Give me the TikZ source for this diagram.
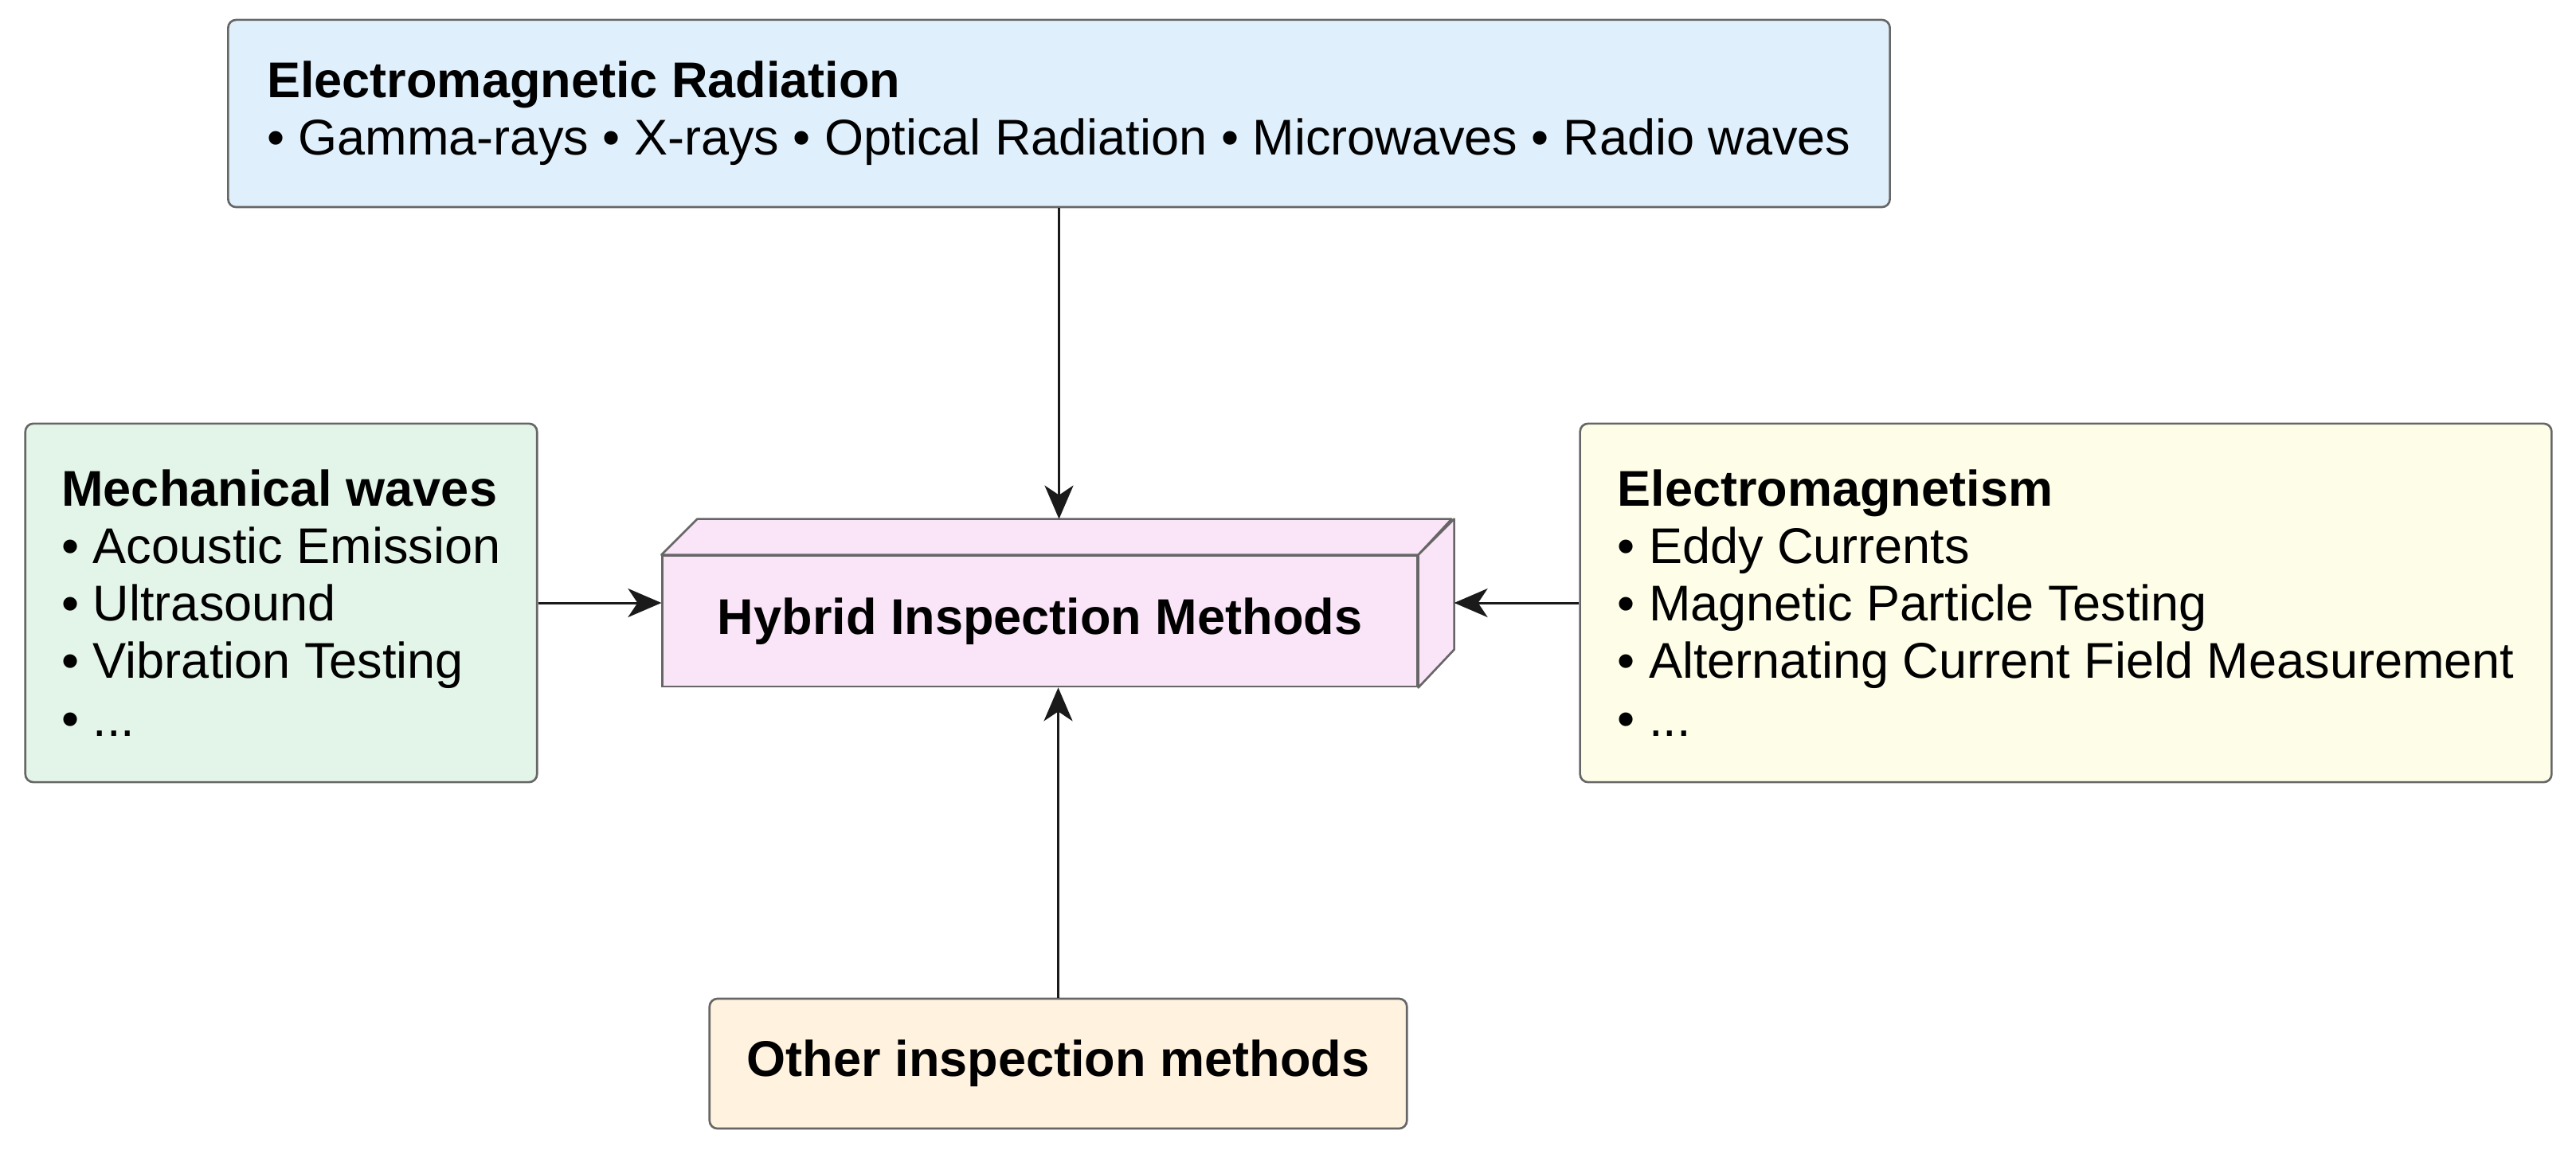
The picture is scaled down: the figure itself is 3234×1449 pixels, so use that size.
\documentclass[tikz,border=0pt]{standalone}
\usepackage{fontspec}
\setmainfont{Liberation Sans}
\usetikzlibrary{arrows.meta,calc}
\definecolor{bluefill}{HTML}{DFF0FC}
\definecolor{greenfill}{HTML}{E3F4E8}
\definecolor{yellowfill}{HTML}{FEFDE8}
\definecolor{pinkfill}{HTML}{F9E5F7}
\definecolor{orangefill}{HTML}{FFF2DF}
\definecolor{bordergray}{HTML}{666666}
\definecolor{arrowblack}{HTML}{1A1A1A}
\begin{document}
\begin{tikzpicture}[x=0.01cm,y=-0.01cm,
  txt/.style={font=\fontsize{17.93pt}{20.5pt}\selectfont},
  box/.style={txt, draw=bordergray, line width=0.75pt, rounded corners=0.1cm, inner sep=0pt, align=left},
  cubeface/.style={draw=bordergray, line width=0.75pt, fill=pinkfill, line join=round},
  conn/.style={draw=arrowblack, line width=0.85pt, -{Stealth[length=0.42cm,width=0.36cm,inset=0.12cm]}}]
\useasboundingbox[fill=white] (0,0) rectangle (3234,1449);

\node[box, fill=bluefill, minimum width=20.85cm, minimum height=2.35cm] (em) at (1329.5,142.5)
  {\textbf{Electromagnetic Radiation}\\• Gamma-rays • X-rays • Optical Radiation • Microwaves • Radio waves};

\node[box, fill=greenfill, minimum width=6.42cm, minimum height=4.5cm] (mech) at (353,757)
  {\textbf{Mechanical waves}\\• Acoustic Emission\\• Ultrasound\\• Vibration Testing\\• ...};

\node[box, fill=yellowfill, minimum width=12.19cm, minimum height=4.5cm] (elm) at (2593.5,757)
  {\textbf{Electromagnetism}\\• Eddy Currents\\• Magnetic Particle Testing\\• Alternating Current Field Measurement\\• ...};

\node[box, fill=orangefill, minimum width=8.75cm, minimum height=1.63cm, align=center] (oth) at (1328.5,1335.5)
  {\textbf{Other inspection methods}};

% cuboid
\node[txt, draw=bordergray, line width=0.75pt, fill=pinkfill, inner sep=0pt,
      minimum width=9.47cm, minimum height=1.64cm] (hyb) at (1305.5,780)
  {\textbf{Hybrid Inspection Methods}};
\draw[cubeface] (hyb.north west) -- ++(45,-45) -- ++(947,0) -- (hyb.north east) -- cycle;
\draw[cubeface] (hyb.north east) -- ++(45,-45) -- ++(0,164) -- (hyb.south east) -- cycle;
\coordinate (cubeTL) at ($(hyb.north west)+(45,-45)$);
\coordinate (cubeTR) at ($(hyb.north east)+(45,-45)$);

% connectors
\draw[conn] (em.south) -- (em.south |- cubeTL);
\draw[conn] (oth.north) -- (oth.north |- hyb.south);
\draw[conn] (mech.east) -- (hyb.west |- mech.east);
\draw[conn] (elm.west) -- (cubeTR |- elm.west);
\end{tikzpicture}
\end{document}
